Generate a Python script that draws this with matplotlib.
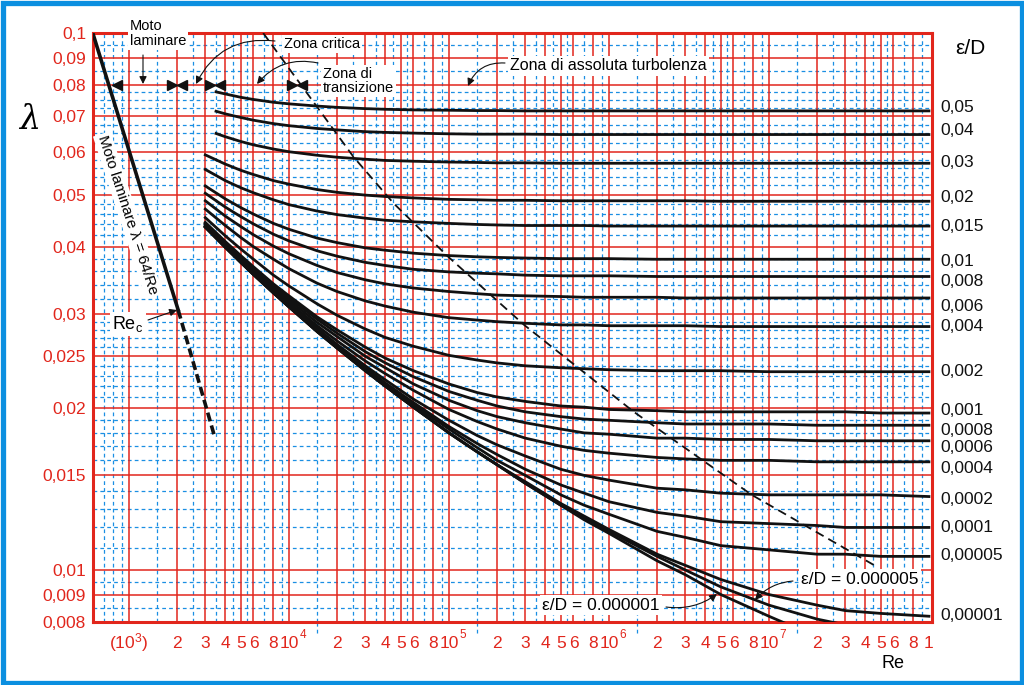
import matplotlib
matplotlib.use("Agg")
import matplotlib.pyplot as plt
from matplotlib.patches import Rectangle

plt.rcParams["font.family"] = ["Liberation Sans", "DejaVu Sans"]
plt.rcParams["mathtext.fontset"] = "custom"
plt.rcParams["mathtext.rm"] = "Liberation Sans"
plt.rcParams["mathtext.it"] = "Liberation Sans:italic"

RED = "#e1261c"
BLUE = "#1a8fe3"

# Reynolds numbers where the curves were read (rough curves start a bit later)
re_rough = [3500, 4000, 5000, 6000, 8000, 1e4, 1.5e4, 2e4, 3e4, 4e4, 6e4, 1e5,
            1.5e5, 2e5, 3e5, 5e5, 7e5, 1e6, 2e6, 3e6, 5e6, 1e7, 2e7, 3e7, 5e7, 1e8]
re_pts = [3000, 4000, 5000, 6000, 8000, 1e4, 1.5e4, 2e4, 3e4, 4e4, 6e4, 1e5,
          1.5e5, 2e5, 3e5, 5e5, 7e5, 1e6, 2e6, 3e6, 5e6, 1e7, 2e7, 3e7, 5e7, 1e8]

# relative roughness of each curve and its friction factor values
rough = [0.05, 0.04, 0.03, 0.02, 0.015, 0.01, 0.008, 0.006, 0.004, 0.002,
         0.001, 0.0008, 0.0006, 0.0004, 0.0002, 0.0001, 0.00005, 0.00001,
         0.000005, 0.000001]
lam_005 = [0.0777, 0.0770, 0.0759, 0.0752, 0.0743, 0.0738, 0.0731, 0.0727, 0.0723, 0.0721, 0.0719, 0.0718, 0.0717,
           0.0717, 0.0716, 0.0716, 0.0716, 0.0716, 0.0716, 0.0716, 0.0716, 0.0716, 0.0716, 0.0716, 0.0716, 0.0716]
lam_004 = [0.0715, 0.0707, 0.0696, 0.0688, 0.0678, 0.0672, 0.0664, 0.0660, 0.0655, 0.0653, 0.0651, 0.0649, 0.0648,
           0.0648, 0.0648, 0.0647, 0.0647, 0.0647, 0.0647, 0.0647, 0.0647, 0.0647, 0.0647, 0.0647, 0.0647, 0.0647]
lam_003 = [0.0650, 0.0641, 0.0628, 0.0619, 0.0608, 0.0601, 0.0592, 0.0587, 0.0582, 0.0579, 0.0577, 0.0575, 0.0574,
           0.0573, 0.0573, 0.0572, 0.0572, 0.0572, 0.0572, 0.0572, 0.0572, 0.0572, 0.0572, 0.0572, 0.0572, 0.0572]
lam_002 = [0.0593, 0.0570, 0.0555, 0.0545, 0.0531, 0.0523, 0.0511, 0.0505, 0.0499, 0.0496, 0.0493, 0.0490, 0.0489,
           0.0488, 0.0488, 0.0487, 0.0487, 0.0487, 0.0487, 0.0487, 0.0486, 0.0486, 0.0486, 0.0486, 0.0486, 0.0486]
lam_0015 = [0.0557, 0.0531, 0.0515, 0.0504, 0.0489, 0.0479, 0.0466, 0.0459, 0.0452, 0.0448, 0.0445, 0.0442, 0.0440,
            0.0439, 0.0438, 0.0438, 0.0438, 0.0437, 0.0437, 0.0437, 0.0437, 0.0437, 0.0437, 0.0437, 0.0437, 0.0437]
lam_001 = [0.0519, 0.0491, 0.0473, 0.0460, 0.0442, 0.0431, 0.0415, 0.0407, 0.0398, 0.0394, 0.0389, 0.0385, 0.0383,
           0.0382, 0.0381, 0.0380, 0.0380, 0.0380, 0.0379, 0.0379, 0.0379, 0.0379, 0.0379, 0.0379, 0.0379, 0.0379]
lam_0008 = [0.0503, 0.0474, 0.0455, 0.0441, 0.0422, 0.0410, 0.0393, 0.0384, 0.0374, 0.0369, 0.0363, 0.0359, 0.0357,
            0.0356, 0.0354, 0.0353, 0.0353, 0.0353, 0.0352, 0.0352, 0.0352, 0.0352, 0.0352, 0.0352, 0.0352, 0.0352]
lam_0006 = [0.0487, 0.0456, 0.0436, 0.0421, 0.0401, 0.0388, 0.0369, 0.0358, 0.0347, 0.0341, 0.0335, 0.0330, 0.0327,
            0.0325, 0.0324, 0.0323, 0.0322, 0.0322, 0.0322, 0.0321, 0.0321, 0.0321, 0.0321, 0.0321, 0.0321, 0.0321]
lam_0004 = [0.0470, 0.0438, 0.0416, 0.0400, 0.0379, 0.0364, 0.0342, 0.0330, 0.0317, 0.0310, 0.0302, 0.0295, 0.0292,
            0.0290, 0.0288, 0.0286, 0.0286, 0.0285, 0.0285, 0.0285, 0.0284, 0.0284, 0.0284, 0.0284, 0.0284, 0.0284]
lam_0002 = [0.0453, 0.0419, 0.0396, 0.0379, 0.0354, 0.0338, 0.0313, 0.0298, 0.0281, 0.0271, 0.0261, 0.0251, 0.0246,
            0.0243, 0.0240, 0.0238, 0.0237, 0.0236, 0.0235, 0.0235, 0.0235, 0.0234, 0.0234, 0.0234, 0.0234, 0.0234]
lam_0001 = [0.0444, 0.0409, 0.0385, 0.0367, 0.0341, 0.0324, 0.0296, 0.0280, 0.0260, 0.0248, 0.0235, 0.0222, 0.0214,
            0.0210, 0.0206, 0.0202, 0.0201, 0.0199, 0.0198, 0.0197, 0.0197, 0.0197, 0.0197, 0.0197, 0.0196, 0.0196]
lam_00008 = [0.0442, 0.0407, 0.0383, 0.0365, 0.0339, 0.0321, 0.0293, 0.0276, 0.0255, 0.0243, 0.0229, 0.0215, 0.0207,
             0.0202, 0.0197, 0.0193, 0.0191, 0.0190, 0.0188, 0.0187, 0.0187, 0.0187, 0.0186, 0.0186, 0.0186, 0.0186]
lam_00006 = [0.0441, 0.0405, 0.0381, 0.0362, 0.0336, 0.0318, 0.0289, 0.0272, 0.0250, 0.0238, 0.0222, 0.0207, 0.0198,
             0.0193, 0.0188, 0.0183, 0.0180, 0.0179, 0.0176, 0.0176, 0.0175, 0.0175, 0.0174, 0.0174, 0.0174, 0.0174]
lam_00004 = [0.0439, 0.0403, 0.0378, 0.0360, 0.0333, 0.0315, 0.0285, 0.0267, 0.0245, 0.0232, 0.0216, 0.0199, 0.0189,
             0.0183, 0.0176, 0.0170, 0.0167, 0.0165, 0.0162, 0.0161, 0.0160, 0.0160, 0.0159, 0.0159, 0.0159, 0.0159]
lam_00002 = [0.0437, 0.0401, 0.0376, 0.0358, 0.0331, 0.0312, 0.0282, 0.0263, 0.0240, 0.0226, 0.0208, 0.0190, 0.0178,
             0.0171, 0.0163, 0.0154, 0.0150, 0.0147, 0.0142, 0.0141, 0.0139, 0.0138, 0.0138, 0.0138, 0.0138, 0.0137]
lam_00001 = [0.0436, 0.0400, 0.0375, 0.0356, 0.0329, 0.0310, 0.0280, 0.0261, 0.0238, 0.0223, 0.0205, 0.0185, 0.0172,
             0.0164, 0.0154, 0.0144, 0.0139, 0.0134, 0.0128, 0.0126, 0.0123, 0.0122, 0.0121, 0.0120, 0.0120, 0.0120]
lam_000005 = [0.0436, 0.0400, 0.0374, 0.0356, 0.0329, 0.0310, 0.0279, 0.0260, 0.0236, 0.0221, 0.0203, 0.0183, 0.0169,
              0.0160, 0.0150, 0.0138, 0.0132, 0.0127, 0.0118, 0.0115, 0.0111, 0.0109, 0.0107, 0.0107, 0.0106, 0.0106]
lam_000001 = [0.0435, 0.0399, 0.0374, 0.0355, 0.0328, 0.0309, 0.0278, 0.0259, 0.0235, 0.0220, 0.0201, 0.0180, 0.0166,
              0.0157, 0.0146, 0.0133, 0.0126, 0.0119, 0.0107, 0.0102, 0.0096, 0.0090, 0.0086, 0.0084, 0.0083, 0.0082]
lam_0000005 = [0.0435, 0.0399, 0.0374, 0.0355, 0.0328, 0.0309, 0.0278, 0.0259, 0.0235, 0.0220, 0.0201, 0.0180, 0.0166,
               0.0157, 0.0145, 0.0132, 0.0125, 0.0118, 0.0106, 0.0100, 0.0093, 0.0086, 0.0081, 0.0079, 0.0077, 0.0075]
lam_0000001 = [0.0435, 0.0399, 0.0374, 0.0355, 0.0328, 0.0309, 0.0278, 0.0259, 0.0235, 0.0220, 0.0201, 0.0180, 0.0166,
               0.0157, 0.0145, 0.0132, 0.0124, 0.0117, 0.0104, 0.0098, 0.0090, 0.0082, 0.0075, 0.0072, 0.0068, 0.0064]
curves = [lam_005, lam_004, lam_003, lam_002, lam_0015, lam_001, lam_0008,
          lam_0006, lam_0004, lam_0002, lam_0001, lam_00008, lam_00006,
          lam_00004, lam_00002, lam_00001, lam_000005, lam_000001,
          lam_0000005, lam_0000001]

# laminar line (solid up to Re critical, then dashed)
re_lam = [594, 2030]
lam_lam = [0.1, 0.0305]
re_lam_ext = [2030, 3414]
lam_lam_ext = [0.0305, 0.0178]

# limit of the fully rough zone
re_bound = [6900, 2.53e4, 4.5e4, 9.9e4, 2.95e5, 1.43e6, 7.8e6, 4.75e7]
lam_bound = [0.1, 0.0588, 0.0482, 0.0383, 0.0286, 0.0197, 0.0138, 0.01013]

# right hand labels
rough_labels = ["0,05", "0,04", "0,03", "0,02", "0,015", "0,01", "0,008",
                "0,006", "0,004", "0,002", "0,001", "0,0008", "0,0006",
                "0,0004", "0,0002", "0,0001", "0,00005", "0,00001"]
label_y = [0.0728, 0.0657, 0.0575, 0.0493, 0.0437, 0.0376, 0.0345, 0.0310,
           0.0284, 0.0234, 0.01978, 0.01815, 0.01688, 0.01542, 0.01350,
           0.01202, 0.01062, 0.00824]

y_major = [0.1, 0.09, 0.08, 0.07, 0.06, 0.05, 0.04, 0.03, 0.025, 0.02,
           0.015, 0.01, 0.009, 0.008]
y_major_labels = ["0,1", "0,09", "0,08", "0,07", "0,06", "0,05", "0,04",
                  "0,03", "0,025", "0,02", "0,015", "0,01", "0,009", "0,008"]
y_minor = [0.095, 0.085, 0.0775, 0.075, 0.0725, 0.0675, 0.065, 0.0625,
           0.058, 0.056, 0.054, 0.052, 0.048, 0.046, 0.044, 0.042, 0.038,
           0.036, 0.034, 0.032, 0.029, 0.028, 0.027, 0.026, 0.024, 0.023,
           0.022, 0.021, 0.019, 0.018, 0.017, 0.016, 0.014, 0.013, 0.012,
           0.011, 0.0095, 0.0085]
decades = [1e3, 1e4, 1e5, 1e6, 1e7]
x_major = [m * d for d in decades for m in (1, 2, 3, 4, 5, 6, 8)]
x_minor = [700, 800, 900] + [m * d for d in decades for m in (1.5, 2.5, 3.5, 4.5, 5.5, 7, 9)]


def px(x, y):
    return (x / 1024, 1 - y / 685)


fig = plt.figure(figsize=(10.24, 6.85), dpi=100)
ax = fig.add_axes([93 / 1024, 63 / 685, 839 / 1024, 589 / 685])
ax.set_xscale("log")
ax.set_yscale("log")
ax.set_xlim(596, 1.045e8)
ax.set_ylim(0.008, 0.1)

for x in x_minor:
    ax.axvline(x, color=BLUE, lw=0.9, ls=(0, (3, 2.5)), zorder=1)
for d in decades[1:]:
    ax.axvline(1.5 * d, ymin=-0.018, ymax=0, color=BLUE, lw=0.9,
               ls=(0, (3, 2.5)), clip_on=False)
for y in y_minor:
    ax.axhline(y, color=BLUE, lw=0.9, ls=(0, (3, 2.5)), zorder=1)
for x in x_major:
    ax.axvline(x, color=RED, lw=1.1, zorder=1.5)
for y in y_major:
    ax.axhline(y, color=RED, lw=1.1, zorder=1.5)

for sp in ax.spines.values():
    sp.set_color(RED)
    sp.set_linewidth(2.2)

ax.set_xticks([])
ax.set_xticks([], minor=True)
ax.set_yticks(y_major)
ax.set_yticklabels(y_major_labels)
ax.set_yticks([], minor=True)
ax.tick_params(axis="y", which="both", length=0, labelsize=12.5,
               labelcolor=RED, pad=5)

# x labels drawn by hand: "10" centred on the line, exponent set apart
xtr = ax.get_xaxis_transform()
for d in decades:
    n = len(str(int(d))) - 1
    for m in (1, 2, 3, 4, 5, 6, 8):
        if m == 1 and n == 3:
            ax.text(d, -0.044, r"$\mathregular{(10^3)}$", transform=xtr,
                    ha="center", va="baseline", color=RED, fontsize=12.5)
        elif m == 1:
            ax.text(d, -0.044, "10", transform=xtr, ha="center",
                    va="baseline", color=RED, fontsize=12.5)
            ax.annotate(str(n), xy=(d, -0.044), xycoords=xtr,
                        xytext=(7.5, 7), textcoords="offset points",
                        ha="left", va="baseline", color=RED, fontsize=8.5,
                        annotation_clip=False)
        else:
            ax.text(m * d, -0.044, str(m), transform=xtr, ha="center",
                    va="baseline", color=RED, fontsize=12.5)
ax.text(1e8, -0.044, "1", transform=xtr, ha="center", va="baseline",
        color=RED, fontsize=12.5)

# curves
for e, lam in zip(rough, curves):
    xs = re_rough if e >= 0.03 else re_pts
    ax.plot(xs, lam, color="#111111", lw=2.0, zorder=3,
            solid_joinstyle="round")

ax.plot(re_lam, lam_lam, color="#111111", lw=2.6, zorder=3)
ax.plot(re_lam_ext, lam_lam_ext, color="#111111", lw=2.6,
        ls=(0, (2.5, 1.2)), zorder=3)
ax.plot(re_bound, lam_bound, color="#111111", lw=1.3, ls=(0, (5, 3)),
        zorder=3)

ytr = ax.get_yaxis_transform()
for lab, y in zip(rough_labels, label_y):
    ax.text(1.0095, y, lab, transform=ytr, ha="left", va="center",
            fontsize=12.5, color="#111111")

white = dict(facecolor="white", edgecolor="none", pad=1.5)


def arrow(src, dst, rad=0.0):
    ax.annotate("", xy=px(*dst), xycoords="figure fraction",
                xytext=px(*src), textcoords="figure fraction",
                arrowprops=dict(arrowstyle="-|>", color="#111111", lw=0.8,
                                mutation_scale=11,
                                connectionstyle=f"arc3,rad={rad}",
                                shrinkA=0, shrinkB=0),
                annotation_clip=False, zorder=6)


# zone annotations along the top
fig.text(*px(130, 19), "Moto\nlaminare", ha="left", va="top", fontsize=10.5,
         linespacing=1.05, bbox=white)
arrow((143, 55), (143, 84))
fig.text(*px(284, 44), "Zona critica", ha="left", va="center",
         fontsize=10.5, bbox=white)
arrow((275, 41), (196, 84), rad=0.35)
fig.text(*px(323, 81), "Zona di\ntransizione", ha="left", va="center",
         fontsize=10.5, linespacing=1.05, bbox=white)
arrow((318, 63), (257, 84), rad=0.3)
fig.text(*px(510, 66), "Zona di assoluta turbolenza", ha="left",
         va="center", fontsize=11.5, bbox=white)
arrow((505, 63), (468, 86), rad=0.35)

for x in (117, 182, 220, 302):
    ax.plot(*px(x, 85), marker="<", ms=7, color="#111111",
            transform=fig.transFigure, clip_on=False, zorder=6)
for x in (172, 210, 292):
    ax.plot(*px(x, 85), marker=">", ms=7, color="#111111",
            transform=fig.transFigure, clip_on=False, zorder=6)

fig.text(*px(128, 215), "Moto laminare λ = 64/Re", rotation=-72,
         ha="center", va="center", fontsize=11, bbox=white)
fig.text(*px(128, 324), r"$\mathregular{Re_c}$", ha="center", va="center",
         fontsize=13, bbox=white)
arrow((148, 320), (177, 310))

fig.text(*px(860, 579), "ε/D = 0.000005", ha="center", va="center",
         fontsize=12.5, bbox=white)
arrow((793, 581), (755, 600), rad=0.2)
fig.text(*px(601, 605), "ε/D = 0.000001", ha="center", va="center",
         fontsize=12.5, bbox=white)
arrow((666, 607), (717, 594), rad=0.2)

fig.text(*px(30, 120), "λ", ha="center", va="center", fontsize=24,
         family="DejaVu Serif", style="italic")
fig.text(*px(970, 48), "ε/D", ha="center", va="center", fontsize=15)
fig.text(*px(893, 664), "Re", ha="center", va="center", fontsize=13)

fig.patches.append(Rectangle((2.5 / 1024, 2.5 / 685), 1 - 5 / 1024,
                             1 - 5 / 685, transform=fig.transFigure,
                             fill=False, edgecolor="#0b8fe0", lw=3.8))

fig.savefig("out.png", dpi=100)
